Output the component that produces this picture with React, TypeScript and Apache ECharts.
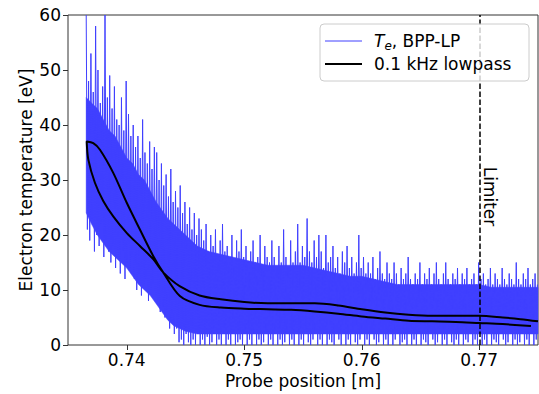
import React, { useEffect, useRef } from "react";
import * as echarts from "echarts";

// Axis extents and ticks
const xMin = 0.735;
const xMax = 0.775;
const xTicks = [0.74, 0.75, 0.76, 0.77];
const yMin = 0;
const yMax = 60;
const yInterval = 10;

// Limiter position
const limiterX = 0.77;
const limiterLabelY = 27;

// Dense core of the Te signal (envelope)
const coreX = [0.73655, 0.737, 0.7375, 0.738, 0.7385, 0.739, 0.7395, 0.74, 0.7405, 0.741, 0.7415, 0.742, 0.7425, 0.743, 0.7435, 0.744, 0.7445, 0.745, 0.746, 0.747, 0.748, 0.749, 0.75, 0.751, 0.752, 0.753, 0.754, 0.755, 0.756, 0.757, 0.758, 0.759, 0.76, 0.761, 0.762, 0.763, 0.764, 0.765, 0.766, 0.767, 0.768, 0.769, 0.77, 0.771, 0.772, 0.773, 0.774, 0.775];
const coreHigh = [45, 44, 43, 41, 39, 38, 36, 34, 33, 31, 30, 28, 26, 24.5, 23, 22, 21, 20, 18, 17, 16.5, 16, 15.5, 15, 14.5, 14.5, 14.5, 14.5, 14, 13.5, 13, 12.5, 12.5, 12, 11.5, 11, 11, 11, 11, 11, 11, 11, 11, 10.5, 10.5, 10.5, 10.5, 10.5];
const coreLow = [24, 22, 20, 18.5, 17, 16, 15, 14, 12.5, 11, 10, 9, 7.5, 6, 4.5, 3.5, 3, 2.5, 2, 2, 2, 2, 2, 2, 2, 2, 2, 2, 2, 2, 2, 2, 2, 2, 2, 2, 2, 2, 2, 2, 2, 2, 2, 2, 2, 2, 2, 2];

// Raw Te samples (alternating spike tops / dips), sampled uniformly in position
const sampleStart = 0.73655;
const sampleStep = 0.0001;
const teSamples = [
  60, 21, 48, 19, 53, 23, 46, 17, 58, 20, 50, 18, 44, 22, 47, 16, 60, 19, 45, 17,
  49, 15, 43, 18, 47, 14, 41, 16, 40, 13, 45, 17, 39, 12, 48, 15, 42, 14, 38, 16,
  40, 12, 36, 10, 38, 13, 34, 9, 41, 11, 35, 12, 33, 8, 37, 10, 32, 11, 36, 9,
  35, 8, 30, 6, 33, 7, 29, 5, 31, 6, 27, 3, 32, 4, 26, 2, 28, 3, 25, 0.5,
  29, 1, 24, 0, 26, 2, 22, 0.5, 25, 0, 21, 1, 24, 0, 20, 2, 23, 0, 21, 1,
  19, 0, 22, 1.5, 17, 0, 20, 0.5, 18, 2, 21, 0, 16, 1, 19, 0, 22, 2, 17, 0,
  18, 1, 16, 0, 20, 2, 15, 0, 19, 0.5, 17, 1, 21, 0, 16, 2, 18, 0, 15, 1,
  17, 0, 19, 2, 15, 0, 16, 1, 20, 0, 14, 0.5, 18, 2, 16, 0, 15, 1, 19, 0,
  16, 2, 14, 0, 18, 1, 15, 0, 21, 0.5, 16, 2, 14, 0, 19, 1, 15, 0, 17, 2,
  22, 0, 15, 1, 18, 0, 16, 2, 23, 0.5, 17, 0, 15, 1, 19, 2, 16, 0, 20, 1,
  17, 0, 14, 2, 20, 0, 15, 1, 16, 0.5, 18, 0, 14, 2, 16, 1, 13, 0, 17, 2,
  15, 0, 18, 1, 14, 0, 16, 2, 13, 0.5, 15, 0, 20, 1, 14, 2, 16, 0, 13, 1,
  15, 0, 13, 2, 16, 1, 12, 0, 14, 0.5, 17, 2, 13, 0, 12, 1, 15, 0, 13, 2,
  12, 0, 15, 1, 13, 2, 11, 0, 14, 0.5, 12, 1, 13, 0, 16, 2, 12, 0, 11, 1,
  13, 0, 12, 2, 15, 0, 11, 1, 13, 0.5, 12, 0, 14, 2, 11, 1, 13, 0, 15, 0.5,
  12, 2, 11, 0, 13, 1, 15, 0, 12, 2, 11, 0.5, 13, 0, 12, 1, 14, 0, 11, 2,
  13, 0, 12, 1, 14, 0.5, 11, 2, 12, 0, 13, 1, 11, 0, 15, 2, 12, 0, 13, 1,
  11, 0, 12, 2, 14, 0, 11, 1, 13, 0.5, 12, 0, 11, 2, 14, 1, 12, 0, 11, 0.5,
  13, 2, 12, 0, 11, 1, 15, 0, 12, 0.5, 11, 2, 13, 0, 12, 1, 14, 0, 11, 2,
  12, 0, 13, 1, 11,
];

// 0.1 kHz lowpass: outward/return branches of the probe sweep
const lowpassX = [0.775, 0.7735, 0.772, 0.77, 0.768, 0.766, 0.764, 0.762, 0.76, 0.758, 0.756, 0.754, 0.752, 0.75, 0.748, 0.7462, 0.7445, 0.7431, 0.74225, 0.74112, 0.73999, 0.73885, 0.738, 0.73729, 0.73673, 0.73659, 0.73715, 0.73772, 0.73885, 0.73999, 0.74112, 0.74225, 0.7431, 0.74452, 0.7462, 0.748, 0.75, 0.752, 0.754, 0.756, 0.758, 0.76, 0.762, 0.764, 0.766, 0.768, 0.77, 0.772, 0.7744];
const lowpassY = [4.3, 4.7, 5.0, 5.3, 5.3, 5.3, 5.5, 5.9, 6.5, 7.2, 7.6, 7.6, 7.6, 7.8, 8.3, 9.0, 10.7, 13.2, 15.6, 18.0, 20.4, 23.4, 26.2, 29.5, 33.7, 37.0, 36.7, 35.5, 31.3, 25.9, 21.0, 16.2, 13.2, 8.9, 7.3, 6.8, 6.6, 6.5, 6.4, 6.1, 5.7, 5.2, 4.8, 4.4, 4.3, 4.2, 4.0, 3.8, 3.45];

const BLUE = "#4040ff";
const FONT = "DejaVu Sans";
const FS = 17;

export default function App() {
  const ref = useRef<HTMLDivElement>(null);

  useEffect(() => {
    if (!ref.current) return;
    const chart = echarts.init(ref.current, null, { renderer: "svg" });

    const bandData = coreX.map((x, i) => [x, coreLow[i], coreHigh[i]]);
    const teData = teSamples.map((y, i) => [sampleStart + i * sampleStep, y]);
    const lpData = lowpassX.map((x, i) => [x, lowpassY[i]]);

    chart.setOption({
      animation: false,
      backgroundColor: "#fff",
      textStyle: { fontFamily: FONT },
      grid: { left: 68, right: 1, top: 15, bottom: 48, show: true, borderColor: "#333", borderWidth: 1, backgroundColor: "transparent" },
      xAxis: {
        type: "value",
        min: xMin,
        max: xMax,
        name: "Probe position [m]",
        nameLocation: "middle",
        nameGap: 27,
        nameMoveOverlap: false,
        nameTextStyle: { fontSize: FS, color: "#000", fontFamily: FONT },
        axisLine: { show: false },
        splitLine: { show: false },
        axisTick: { show: true, length: 5, inside: false, customValues: xTicks, lineStyle: { color: "#333" } },
        axisLabel: { customValues: xTicks, fontSize: FS, color: "#000", margin: 6, fontFamily: FONT, formatter: (v: number) => v.toFixed(2) },
      },
      yAxis: {
        type: "value",
        min: yMin,
        max: yMax,
        interval: yInterval,
        name: "Electron temperature [eV]",
        nameLocation: "middle",
        nameGap: 34,
        nameMoveOverlap: false,
        nameTextStyle: { fontSize: FS, color: "#000", fontFamily: FONT },
        axisLine: { show: false },
        splitLine: { show: false },
        axisTick: { show: true, length: 5, lineStyle: { color: "#333" } },
        axisLabel: { fontSize: FS, color: "#000", margin: 7, fontFamily: FONT },
      },
      series: [
        {
          type: "custom",
          name: "core",
          data: bandData,
          z: 1,
          silent: true,
          renderItem: (params: any, api: any) => {
            if (params.dataIndex !== 0) return null;
            const pts: number[][] = [];
            for (let i = 0; i < coreX.length; i++) pts.push(api.coord([coreX[i], coreHigh[i]]));
            for (let i = coreX.length - 1; i >= 0; i--) pts.push(api.coord([coreX[i], coreLow[i]]));
            return { type: "polygon", shape: { points: pts }, style: { fill: BLUE, stroke: BLUE, lineWidth: 0.5 } };
          },
        },
        {
          type: "line",
          name: "Te, BPP-LP",
          data: teData,
          showSymbol: false,
          symbol: "none",
          z: 2,
          lineStyle: { color: BLUE, width: 1 },
          silent: true,
        },
        {
          type: "line",
          name: "0.1 kHz lowpass",
          data: lpData,
          showSymbol: false,
          symbol: "none",
          smooth: 0.3,
          z: 3,
          lineStyle: { color: "#000", width: 2 },
          silent: true,
          markLine: {
            silent: true,
            symbol: "none",
            label: { show: false },
            lineStyle: { color: "#000", width: 1.5, type: [5.5, 2.5] },
            data: [{ xAxis: limiterX }],
          },
        },
      ],
    });

    const p = chart.convertToPixel({ xAxisIndex: 0, yAxisIndex: 0 }, [limiterX, limiterLabelY]) as number[];

    chart.setOption({
      graphic: [
        {
          type: "text",
          x: p[0] + 11,
          y: p[1],
          rotation: -Math.PI / 2,
          z: 20,
          style: { text: "Limiter", fontSize: FS, fontFamily: FONT, fill: "#000", align: "center", verticalAlign: "middle" },
        },
        {
          type: "group",
          z: 30,
          children: [
            {
              type: "rect",
              shape: { x: 320, y: 24, width: 209, height: 57, r: 4 },
              style: { fill: "rgba(255,255,255,0.8)", stroke: "#cccccc", lineWidth: 1 },
              z: 30,
            },
            { type: "line", shape: { x1: 325, y1: 41, x2: 362, y2: 41 }, style: { stroke: BLUE, lineWidth: 1 }, z: 31 },
            { type: "line", shape: { x1: 325, y1: 64, x2: 362, y2: 64 }, style: { stroke: "#000", lineWidth: 2 }, z: 31 },
            {
              type: "text",
              x: 374,
              y: 41,
              z: 31,
              style: {
                text: "{i|T}{s|e}{n|, BPP-LP}",
                verticalAlign: "middle",
                fill: "#000",
                rich: {
                  i: { fontSize: FS, fontStyle: "italic", fontFamily: FONT, lineHeight: 22, verticalAlign: "middle" },
                  s: { fontSize: 12, fontStyle: "italic", fontFamily: FONT, lineHeight: 22, verticalAlign: "bottom" },
                  n: { fontSize: FS, fontFamily: FONT, lineHeight: 22, verticalAlign: "middle" },
                },
              },
            },
            {
              type: "text",
              x: 374,
              y: 64,
              z: 31,
              style: { text: "0.1 kHz lowpass", fontSize: FS, fontFamily: FONT, fill: "#000", verticalAlign: "middle" },
            },
          ],
        },
      ],
    });

    return () => chart.dispose();
  }, []);

  return (
    <div
      ref={ref}
      style={{ position: "fixed", left: 0, top: 0, width: 539, height: 394, background: "#fff" }}
    />
  );
}
